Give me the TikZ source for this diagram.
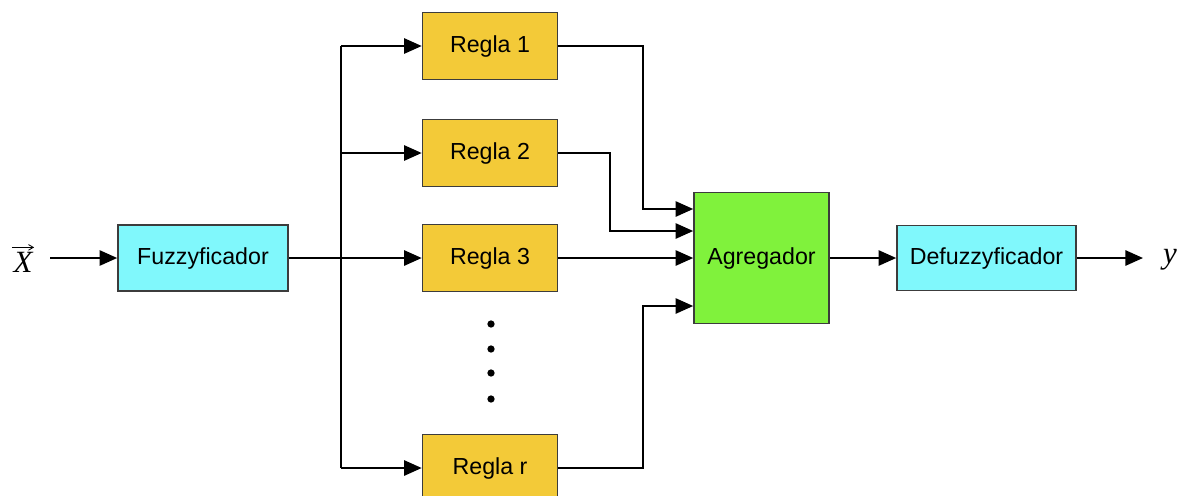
\documentclass[tikz,border=0pt]{standalone}
\usepackage{fontspec}
\setmainfont{Liberation Sans}
\newfontfamily\serifa{Liberation Serif}
\usetikzlibrary{arrows.meta,calc}
\definecolor{cian}{RGB}{128,248,252}
\definecolor{oro}{RGB}{243,202,56}
\definecolor{verde}{RGB}{128,242,60}
\definecolor{borde}{RGB}{60,60,60}
\begin{document}
\begin{tikzpicture}[x=0.025cm,y=-0.025cm,
    caja/.style={draw=borde,line width=1.1pt,font=\fontsize{16.5}{20}\selectfont},
    regla/.style={caja,fill=oro,minimum width=3.375cm,minimum height=1.67cm},
    var/.style={font=\fontsize{22}{26}\selectfont\serifa\itshape,inner sep=0pt},
    linea/.style={line width=1.5pt},
    flecha/.style={linea,-{Triangle[length=4.4mm,width=3.8mm]}}]
  \useasboundingbox (0,0) rectangle (1189,495);

  % bloques
  \node[caja,fill=cian,minimum width=4.25cm,minimum height=1.65cm] (fuz) at (203,258) {Fuzzyficador};
  \node[regla] (r1) at (490,46) {Regla 1};
  \node[regla] (r2) at (490,153) {Regla 2};
  \node[regla] (r3) at (490,258) {Regla 3};
  \node[regla] (rr) at (490,468) {Regla r};
  \node[caja,fill=verde,minimum width=3.375cm,minimum height=3.28cm] (agr) at (761.5,258) {Agregador};
  \node[caja,fill=cian,minimum width=4.475cm,minimum height=1.63cm] (def) at (986.5,258) {Defuzzyficador};

  % entrada y salida
  \node[var] (x) at (23,262) {X};
  \draw[line width=0.6pt,-{Straight Barb[length=1.2mm,width=1.4mm]}]
    ([xshift=-1pt,yshift=3pt]x.north west) -- ([xshift=1pt,yshift=3pt]x.north east);
  \node[var] (y) at (1170,260) {y};
  \coordinate (xin) at (50,258);
  \coordinate (yout) at (1143,258);
  \coordinate (bus) at (341,258);

  \draw[flecha] (xin) -- (fuz.west);
  \draw[flecha] (fuz.east) -- (r3.west);
  \draw[linea] (bus |- r1.west) -- (bus |- rr.west);
  \foreach \r in {r1,r2,rr}
    \draw[flecha] (bus |- \r.west) -- (\r.west);

  % puntos suspensivos
  \foreach \yy in {324,349,373,399}
    \fill (491,\yy) circle (2.6pt);

  % hacia el agregador
  \draw[flecha] (r1.east) -| (643,209) -- ($(agr.west)+(0,-49)$);
  \draw[flecha] (r2.east) -| (610,231) -- ($(agr.west)+(0,-27)$);
  \draw[flecha] (r3.east) -- (agr.west);
  \draw[flecha] (rr.east) -| (643,306) -- ($(agr.west)+(0,48)$);

  \draw[flecha] (agr.east) -- (def.west);
  \draw[flecha] (def.east) -- (yout);
\end{tikzpicture}
\end{document}
